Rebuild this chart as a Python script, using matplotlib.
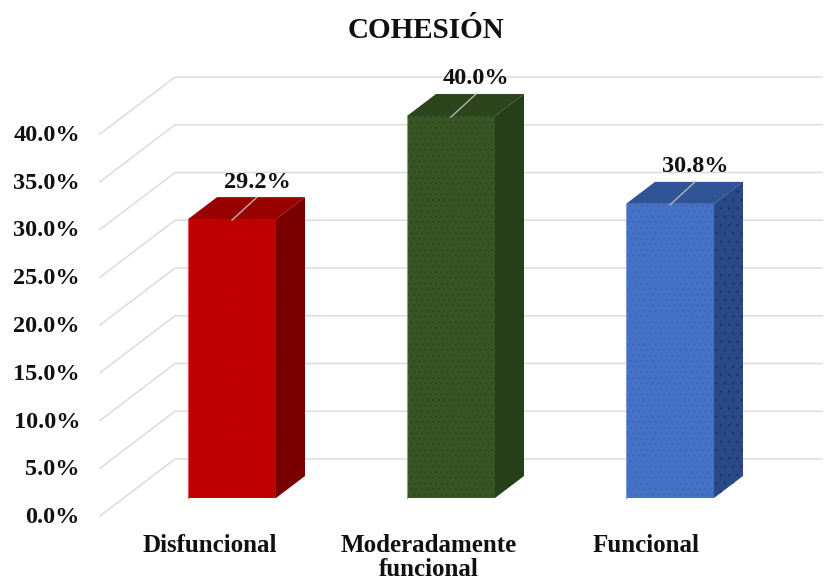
import matplotlib
matplotlib.use("Agg")
import matplotlib.pyplot as plt

categorias = ["Disfuncional", "Moderadamente\nfuncional", "Funcional"]
valores = [29.2, 40.0, 30.8]
marcas_y = [0, 5, 10, 15, 20, 25, 30, 35, 40]
etiquetas_y = ["0.0%", "5.0%", "10.0%", "15.0%", "20.0%", "25.0%", "30.0%", "35.0%", "40.0%"]

color_frente = ["#c00000", "#375623", "#4472c4"]
color_tapa = ["#990000", "#2c451c", "#2f5597"]
color_lado = ["#7a0000", "#263f18", "#2a4a86"]
color_hatch = ["#b80000", "#24452f", "#3c62b8"]
color_borde = ["#d85a5a", "#8f9f85", "#7f9bd6"]
color_texto = "#111111"

# escala: 219 px entre categorias, 382 px para 40%
ESC_X = 1 / 219
ESC_Y = 40 / 382
ANCHO = 88 * ESC_X
PROF_X = 29 * ESC_X
PROF_Y = 22 * ESC_Y

plt.rcParams['font.family'] = ['Liberation Serif', 'DejaVu Serif']
plt.rcParams['hatch.linewidth'] = 0.5

fig = plt.figure(figsize=(8.24, 5.8), dpi=100)
ax = fig.add_axes([0, 0, 1, 1])
ax.set_xlim(-232 * ESC_X, 592 * ESC_X)
ax.set_ylim(-82 * ESC_Y, 498 * ESC_Y)
ax.axis("off")

# lineas de la pared y del piso
x_frente = -132 * ESC_X
x_fondo = -57 * ESC_X
for m, etiqueta in zip(marcas_y, etiquetas_y):
    y_frente = m - 18 * ESC_Y
    y_fondo = m + 39 * ESC_Y
    ax.plot([x_frente, x_fondo, 590 * ESC_X], [y_frente, y_fondo, y_fondo],
            color="#dcdcdc", lw=1.1, zorder=1)
    ax.text(-152 * ESC_X, m - 19.5 * ESC_Y, etiqueta, ha="right", va="center",
            fontsize=17.5, fontweight="bold", color=color_texto)

xs = list(range(len(valores)))
ax.bar(xs, valores, width=ANCHO, color=color_frente, zorder=3.5, linewidth=0)
barras = ax.bar(xs, valores, width=ANCHO, color="none", zorder=4, linewidth=0, hatch="...")
for b, c in zip(barras, color_hatch):
    b.set_edgecolor(c)

for i, v in enumerate(valores):
    izq = i - ANCHO / 2
    der = i + ANCHO / 2
    # borde claro de la cara frontal
    ax.plot([izq, izq], [0, v], color=color_borde[i], lw=0.8, zorder=4.5)
    # tapa superior
    ax.fill([izq, der, der + PROF_X, izq + PROF_X], [v, v, v + PROF_Y, v + PROF_Y],
            color=color_tapa[i], lw=0, zorder=3)
    # cara lateral
    ax.fill([der, der + PROF_X, der + PROF_X, der], [0, PROF_Y, v + PROF_Y, v],
            color=color_lado[i], lw=0, zorder=3)
    # linea guia y etiqueta del valor
    ax.plot([i, i + 25 * ESC_X], [v - 1 * ESC_Y, v + PROF_Y], color="#b5b5b5", lw=1, zorder=5)
    ax.text(i + 25 * ESC_X, v + PROF_Y + 15 * ESC_Y, f"{v:.1f}%", ha="center", va="center",
            fontsize=17.5, fontweight="bold", color=color_texto, zorder=6)

# puntos oscuros del lateral azul
ax.fill([2 + ANCHO / 2, 2 + ANCHO / 2 + PROF_X, 2 + ANCHO / 2 + PROF_X, 2 + ANCHO / 2],
        [0, PROF_Y, valores[2] + PROF_Y, valores[2]],
        facecolor="none", edgecolor="#1f2f78", lw=0, hatch="..", zorder=4)

pos_cat = [-22 * ESC_X, 1 - 22 * ESC_X, 2 - 24 * ESC_X]
for x, c in zip(pos_cat, categorias):
    ax.text(x, -36 * ESC_Y, c, ha="center", va="top", fontsize=18,
            fontweight="bold", color=color_texto, linespacing=1.08)

ax.text(194 * ESC_X, 467 * ESC_Y, "COHESIÓN", ha="center", va="center",
        fontsize=21, fontweight="bold", color=color_texto)

fig.savefig("out.png", dpi=100)
